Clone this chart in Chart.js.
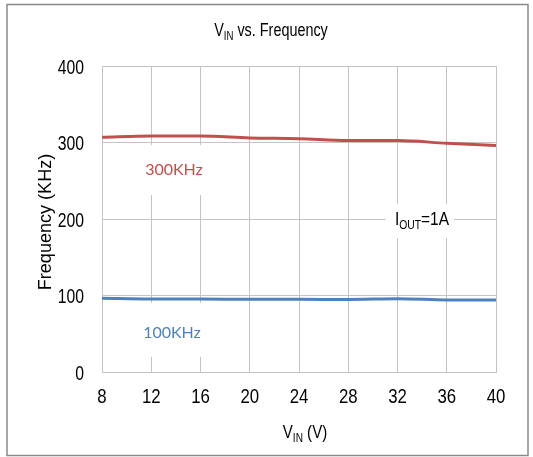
<!DOCTYPE html>
<html>
<head>
<meta charset="utf-8">
<script src="https://cdn.jsdelivr.net/npm/chart.js@4/dist/chart.umd.min.js"></script>
<style>
    html, body { margin: 0; padding: 0; background: #fff; }
    #wrap { width: 533px; height: 457px; position: relative; }
</style>
</head>
<body>
<div id="wrap"><canvas id="chart"></canvas></div>
<script>
var vinTicks = [8, 12, 16, 20, 24, 28, 32, 36, 40];
var freqTicks = [0, 100, 200, 300, 400];
var freq300 = [307, 308.5, 308.5, 306, 305, 302.5, 302.5, 299, 296];
var freq100 = [96.5, 95.5, 95.5, 95, 95, 94.8, 95.8, 94.2, 94];

var sans = '"Liberation Sans", Arial, sans-serif';

function points(ys) {
    return vinTicks.map(function (x, i) { return {x: x, y: ys[i]}; });
}

// draws runs of text (some as subscript) squeezed horizontally by sx
function runs(ctx, parts, x, y, size, align, sx) {
    var sub = Math.round(size * 0.68);
    var widths = parts.map(function (p) {
        ctx.font = (p.sub ? sub : size) + 'px ' + sans;
        return ctx.measureText(p.t).width;
    });
    var total = widths.reduce(function (a, b) { return a + b; }, 0);
    var start = 0;
    if (align === 'center') start = -total / 2;
    if (align === 'right') start = -total;
    ctx.save();
    ctx.translate(x, y);
    ctx.scale(sx, 1);
    ctx.textAlign = 'left';
    ctx.textBaseline = 'alphabetic';
    parts.forEach(function (p, i) {
        ctx.font = (p.sub ? sub : size) + 'px ' + sans;
        ctx.fillText(p.t, start, p.sub ? size * 0.24 : 0);
        start += widths[i];
    });
    ctx.restore();
}

var decor = {
    id: 'decor',
    afterDatasetsDraw: function (chart) {
        var ctx = chart.ctx;
        ctx.save();
        // label boxes over the grid
        ctx.fillStyle = '#fff';
        ctx.fillRect(140, 145, 70, 50);
        ctx.fillRect(138, 303, 70, 54);
        ctx.fillRect(386, 204, 68, 34);

        ctx.font = '16px Lato, "Open Sans", sans-serif';
        ctx.textAlign = 'center';
        ctx.textBaseline = 'alphabetic';
        ctx.fillStyle = '#c0504d';
        ctx.fillText('300KHz', 174, 175);
        ctx.fillStyle = '#4f81bd';
        ctx.fillText('100KHz', 172, 338);

        ctx.fillStyle = '#000';
        runs(ctx, [{t: 'I'}, {t: 'OUT', sub: true}, {t: '=1A'}], 395, 225, 18, 'left', 0.86);
        ctx.restore();
    },
    afterDraw: function (chart) {
        var ctx = chart.ctx;
        var xs = chart.scales.x;
        var ys = chart.scales.y;
        ctx.save();
        ctx.fillStyle = '#000';

        // tick labels
        vinTicks.forEach(function (v) {
            runs(ctx, [{t: String(v)}], xs.getPixelForValue(v), 403, 21, 'center', 0.8);
        });
        freqTicks.forEach(function (v) {
            runs(ctx, [{t: String(v)}], 84, ys.getPixelForValue(v) + 7.5, 21, 'right', 0.75);
        });

        runs(ctx, [{t: 'V'}, {t: 'IN', sub: true}, {t: ' vs. Frequency'}], 271, 36, 18, 'center', 0.8);
        runs(ctx, [{t: 'V'}, {t: 'IN', sub: true}, {t: ' (V)'}], 305, 438, 18, 'center', 0.84);

        ctx.translate(51, 222);
        ctx.rotate(-Math.PI / 2);
        runs(ctx, [{t: 'Frequency (KHz)'}], 0, 0, 19, 'center', 0.95);
        ctx.restore();

        ctx.save();
        ctx.strokeStyle = '#8a8a8a';
        ctx.lineWidth = 1.5;
        ctx.strokeRect(7, 4.5, 521, 451);
        ctx.restore();
    }
};

new Chart(document.getElementById('chart'), {
    type: 'line',
    data: {
        datasets: [
            {
                label: '300KHz',
                data: points(freq300),
                borderColor: '#c0504d',
                borderWidth: 3,
                pointRadius: 0,
                tension: 0.4,
                cubicInterpolationMode: 'monotone'
            },
            {
                label: '100KHz',
                data: points(freq100),
                borderColor: '#4f81bd',
                borderWidth: 3,
                pointRadius: 0,
                tension: 0.4,
                cubicInterpolationMode: 'monotone'
            }
        ]
    },
    options: {
        responsive: true,
        maintainAspectRatio: false,
        animation: false,
        events: [],
        layout: {
            padding: {left: 0, top: 66, right: 37, bottom: 0}
        },
        plugins: {
            legend: {display: false},
            title: {display: false},
            tooltip: {enabled: false}
        },
        scales: {
            x: {
                type: 'linear',
                min: 8,
                max: 40,
                afterBuildTicks: function (scale) {
                    scale.ticks = vinTicks.map(function (v) { return {value: v}; });
                },
                afterFit: function (scale) { scale.height = 85; },
                grid: {color: '#c4c4c4', lineWidth: 1, drawTicks: false},
                border: {color: '#c4c4c4'},
                ticks: {display: false}
            },
            y: {
                min: 0,
                max: 400,
                afterBuildTicks: function (scale) {
                    scale.ticks = freqTicks.map(function (v) { return {value: v}; });
                },
                afterFit: function (scale) { scale.width = 102; },
                grid: {color: '#c4c4c4', lineWidth: 1, drawTicks: false},
                border: {color: '#c4c4c4'},
                ticks: {display: false}
            }
        }
    },
    plugins: [decor]
});
</script>
</body>
</html>
